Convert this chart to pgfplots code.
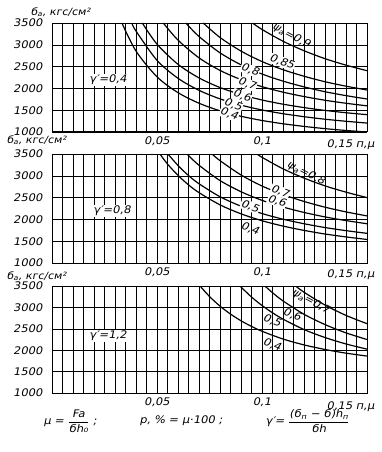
\documentclass[border=0pt]{standalone}
\usepackage{fontspec}
\setmainfont{DejaVu Sans}[FakeStretch=1.1, FakeSlant=0.2]
\usepackage{pgfplots}
\pgfplotsset{compat=1.18}
\newcommand{\gl}{\fontsize{10.5}{12}\selectfont}
\newcommand{\gs}{\fontsize{10}{11}\selectfont}
\tikzset{lab/.style={font=\gl, fill=white, inner sep=0.6pt, rotate=-20},
         labn/.style={font=\gl, inner sep=0.6pt, rotate=-20},
         crv/.style={black, solid, line width=1.2pt, smooth, mark=none}}
\pgfplotsset{panel/.style={
  scale only axis, width=315bp, height=109bp, anchor=north west,
  xmin=0, xmax=0.15, ymin=1000, ymax=3500,
  xtick={0.05,0.1}, xticklabels={{0,05},{0,1}},
  minor xtick={0.005,0.01,...,0.146},
  ytick={1000,1500,2000,2500,3000,3500},
  yticklabels={1000,1500,2000,2500,3000,\raisebox{-5bp}{3500}},
  grid=both,
  major grid style={black, line width=0.6pt},
  minor grid style={black, line width=0.6pt},
  axis line style={line width=1pt},
  tick style={draw=none},
  ticklabel style={font=\gl},
  yticklabel style={xshift=-6bp},
  xticklabel style={yshift=-1bp},
}}
\begin{document}
\begin{tikzpicture}
\useasboundingbox (0,0) rectangle (382bp,-452bp);
% ---------- panel 1 ----------
\begin{axis}[panel, at={(52bp,-23bp)}]
\addplot[crv] coordinates {(0.0333,3500)(0.04,2856)(0.05,2265)(0.06,1903)(0.07,1660)(0.08,1487)(0.09,1361)(0.10,1264)(0.11,1189)(0.12,1128)(0.13,1077)(0.14,1035)(0.15,1000)};
\addplot[crv] coordinates {(0.038,3500)(0.04,3315)(0.05,2644)(0.06,2232)(0.07,1956)(0.08,1760)(0.09,1616)(0.10,1505)(0.11,1420)(0.12,1351)(0.13,1293)(0.14,1246)(0.15,1205)};
\addplot[crv] coordinates {(0.043,3500)(0.05,3015)(0.06,2552)(0.07,2241)(0.08,2020)(0.09,1859)(0.10,1734)(0.11,1638)(0.12,1560)(0.13,1495)(0.14,1442)(0.15,1397)};
\addplot[crv] coordinates {(0.053,3500)(0.06,3107)(0.07,2701)(0.08,2413)(0.09,2202)(0.10,2040)(0.11,1914)(0.12,1813)(0.13,1728)(0.14,1659)(0.15,1600)};
\addplot[crv] coordinates {(0.0637,3500)(0.07,3191)(0.08,2816)(0.09,2541)(0.10,2330)(0.11,2167)(0.12,2035)(0.13,1924)(0.14,1834)(0.15,1757)};
\addplot[crv] coordinates {(0.072,3500)(0.08,3168)(0.09,2856)(0.10,2616)(0.11,2429)(0.12,2279)(0.13,2153)(0.14,2051)(0.15,1963)};
\addplot[crv] coordinates {(0.0955,3500)(0.10,3352)(0.11,3082)(0.12,2864)(0.13,2682)(0.14,2533)(0.15,2406)};
\node[font=\gl, fill=white, inner sep=1pt] at (axis cs:0.0267,2190) {γ′=0,4};
\node[font=\gl, rotate=-28] at (axis cs:0.114,3200) {ψ\textsubscript{a}=0,9};
\node[lab] at (axis cs:0.1095,2606) {0,85};
\node[lab] at (axis cs:0.0943,2422) {0,8};
\node[lab] at (axis cs:0.0929,2101) {0,7};
\node[lab] at (axis cs:0.0905,1826) {0,6};
\node[lab] at (axis cs:0.0862,1619) {0,5};
\node[lab] at (axis cs:0.0843,1413) {0,4};
\end{axis}
\node[font=\gs, anchor=north west] at (27bp,-4bp) {б\textsubscript{a}, кгс/см²};
\node[font=\gl, anchor=north east] at (378bp,-136bp) {0,15 п,μ};
% ---------- panel 2 ----------
\begin{axis}[panel, at={(52bp,-154bp)}]
\addplot[crv] coordinates {(0.0514,3500)(0.055,3270)(0.06,3010)(0.065,2792)(0.07,2614)(0.08,2334)(0.09,2128)(0.10,1970)(0.11,1847)(0.12,1748)(0.13,1665)(0.14,1598)(0.15,1540)};
\addplot[crv] coordinates {(0.0552,3500)(0.06,3237)(0.065,3006)(0.07,2818)(0.08,2520)(0.09,2303)(0.10,2135)(0.11,2005)(0.12,1901)(0.13,1813)(0.14,1742)(0.15,1680)};
\addplot[crv] coordinates {(0.0643,3500)(0.065,3464)(0.07,3242)(0.08,2891)(0.09,2635)(0.10,2437)(0.11,2284)(0.12,2160)(0.13,2057)(0.14,1973)(0.15,1900)};
\addplot[crv] coordinates {(0.0762,3500)(0.08,3348)(0.09,3019)(0.10,2766)(0.11,2570)(0.12,2412)(0.13,2280)(0.14,2172)(0.15,2080)};
\addplot[crv] coordinates {(0.0976,3500)(0.10,3424)(0.11,3160)(0.12,2948)(0.13,2769)(0.14,2625)(0.15,2500)};
\node[font=\gl, fill=white, inner sep=1pt] at (axis cs:0.0286,2200) {γ′=0,8};
\node[font=\gl, rotate=-28] at (axis cs:0.121,3060) {ψ\textsubscript{a}=0,8};
\node[lab] at (axis cs:0.1086,2640) {0,7};
\node[lab] at (axis cs:0.1071,2420) {0,6};
\node[lab] at (axis cs:0.0943,2300) {0,5};
\node[labn] at (axis cs:0.0943,1780) {0,4};
\end{axis}
\node[font=\gs, anchor=north west] at (3bp,-132bp) {б\textsubscript{a}, кгс/см²};
\node[font=\gl, anchor=north east] at (378bp,-266bp) {0,15 п,μ};
% ---------- panel 3 ----------
\begin{axis}[panel, at={(52bp,-286bp)}, height=107bp]
\addplot[crv] coordinates {(0.0705,3500)(0.075,3255)(0.08,3030)(0.085,2844)(0.09,2688)(0.095,2556)(0.10,2443)(0.11,2261)(0.12,2124)(0.13,2017)(0.14,1931)(0.15,1863)};
\addplot[crv] coordinates {(0.0895,3500)(0.09,3476)(0.095,3243)(0.10,3045)(0.105,2874)(0.11,2726)(0.12,2483)(0.13,2296)(0.14,2146)(0.15,2025)};
\addplot[crv] coordinates {(0.1014,3500)(0.105,3344)(0.11,3152)(0.12,2840)(0.13,2599)(0.14,2405)(0.15,2250)};
\addplot[crv] coordinates {(0.116,3500)(0.12,3355)(0.13,3055)(0.14,2813)(0.15,2620)};
\node[font=\gl, fill=white, inner sep=1pt] at (axis cs:0.0267,2340) {γ′=1,2};
\node[font=\gl, rotate=-28, inner sep=0.5pt] at (axis cs:0.1233,3131) {ψ\textsubscript{a}=0,7};
\node[labn] at (axis cs:0.1143,2830) {0,6};
\node[labn] at (axis cs:0.1048,2682) {0,5};
\node[labn] at (axis cs:0.1048,2128) {0,4};
\end{axis}
\node[font=\gs, anchor=north west] at (3bp,-268bp) {б\textsubscript{a}, кгс/см²};
\node[font=\gl, anchor=north east] at (378bp,-398bp) {0,15 п,μ};
% ---------- formulas ----------
\node[font=\gl, anchor=west] at (40bp,-421bp) {μ = $\displaystyle\frac{\mbox{\gl Fa}}{\mbox{\gl бh₀}}$ ;};
\node[font=\gl, anchor=west] at (136bp,-421bp) {p, \% = μ·100 ;};
\node[font=\gl, anchor=west] at (262bp,-421bp) {γ′= $\displaystyle\frac{\mbox{\gl (б\textsubscript{п} − б)h\textsubscript{п}}}{\mbox{\gl бh}}$};
\end{tikzpicture}
\end{document}
